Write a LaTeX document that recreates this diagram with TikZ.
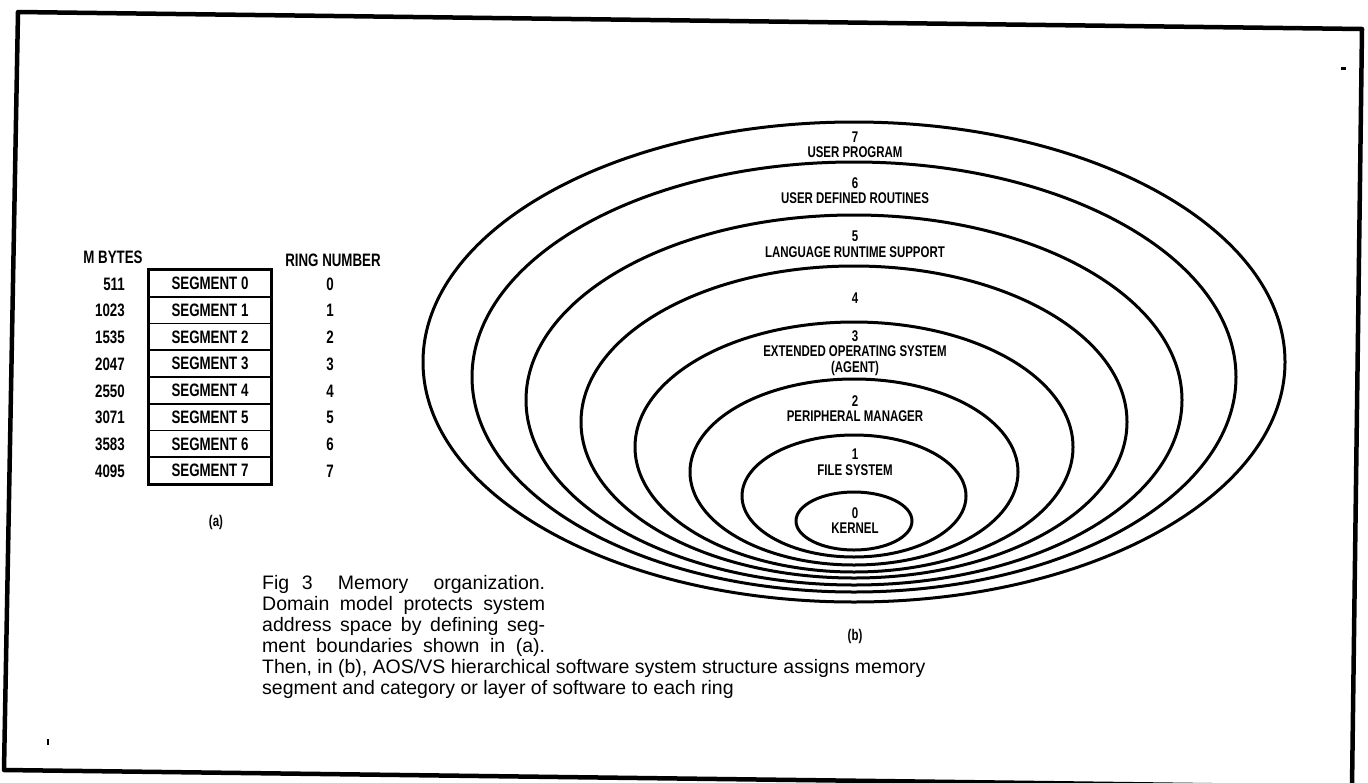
\documentclass[tikz,border=0pt]{standalone}
\usepackage{fontspec}
\setmainfont{Liberation Sans}
\newfontfamily\condfont[FakeStretch=0.74]{Liberation Sans Bold}
\begin{document}
\begin{tikzpicture}[x=1pt,y=-1pt,
  frame/.style={line width=4.5pt, line join=round},
  ringline/.style={line width=3pt},
  tbl/.style={font=\condfont\fontsize{18}{18}\selectfont, inner sep=0pt},
  cell/.style={tbl, draw, line width=1.8pt, minimum width=122pt, minimum height=26.75pt},
  lbl/.style={font=\condfont\fontsize{15.5}{15.5}\selectfont, align=center, inner sep=0pt},
  captext/.style={font=\fontsize{19.5}{21}\selectfont, anchor=base west, inner sep=0pt}]
\useasboundingbox (0,0) rectangle (1368,782);

% page frame
\draw[frame] (18,12) -- (1362,29) -- (1352,787) -- (4,770) -- cycle;
% small stray marks
\fill (1341,67) rectangle (1346,69.5);
\fill (47,739) rectangle (48.6,745);

% (a) segment table
\node[tbl] (mbhead) at (113,257) {M BYTES};
\node[tbl] (rnhead) at (333,260) {RING NUMBER};
\foreach \mb [count=\i from 0] in {511,1023,1535,2047,2550,3071,3583,4095} {
  \node[cell] (seg\i) at (210, 283.4+26.75*\i) {SEGMENT \i};
  \node[tbl, anchor=east] (mb\i) at (125, 284+26.75*\i) {\mb};
  \node[tbl] (rn\i) at (330, 284+26.75*\i) {\i};
}
\draw[line width=3pt] (seg0.north west) rectangle (seg7.south east);
\node[lbl] (capa) at (216,522) {(a)};

% (b) nested rings
\foreach \cy/\rx/\ry in {362/431/240, 377/382/215, 400/328/185, 422/273/156,
                          447/219/125, 472/164/93, 496/112/61, 521/58/29}
  \draw[ringline] (854,\cy) ellipse [x radius=\rx pt, y radius=\ry pt];

\node[lbl] (r7) at (855,144.5) {7\\USER PROGRAM};
\node[lbl] (r6) at (855,190.5) {6\\USER DEFINED ROUTINES};
\node[lbl] (r5) at (855,244) {5\\LANGUAGE RUNTIME SUPPORT};
\node[lbl] (r4) at (855,298) {4};
\node[lbl] (r3) at (855,353) {3\\EXTENDED OPERATING SYSTEM\\(AGENT)};
\node[lbl] (r2) at (855,408.5) {2\\PERIPHERAL MANAGER};
\node[lbl] (r1) at (855,462) {1\\FILE SYSTEM};
\node[lbl] (r0) at (855,520.5) {0\\KERNEL};
\node[lbl] (capb) at (855,636) {(b)};

% caption
\node[captext] (c1) at (262,589) {\makebox[283pt][s]{Fig 3 \ Memory \ organization.}};
\node[captext] (c2) at (262,610) {\makebox[283pt][s]{Domain model protects system}};
\node[captext] (c3) at (262,631) {\makebox[283pt][s]{address space by defining seg-}};
\node[captext] (c4) at (262,652) {\makebox[283pt][s]{ment boundaries shown in (a).}};
\node[captext] (c5) at (262,673) {Then, in (b), AOS/VS hierarchical software system structure assigns memory};
\node[captext] (c6) at (262,694) {segment and category or layer of software to each ring};
\end{tikzpicture}
\end{document}
